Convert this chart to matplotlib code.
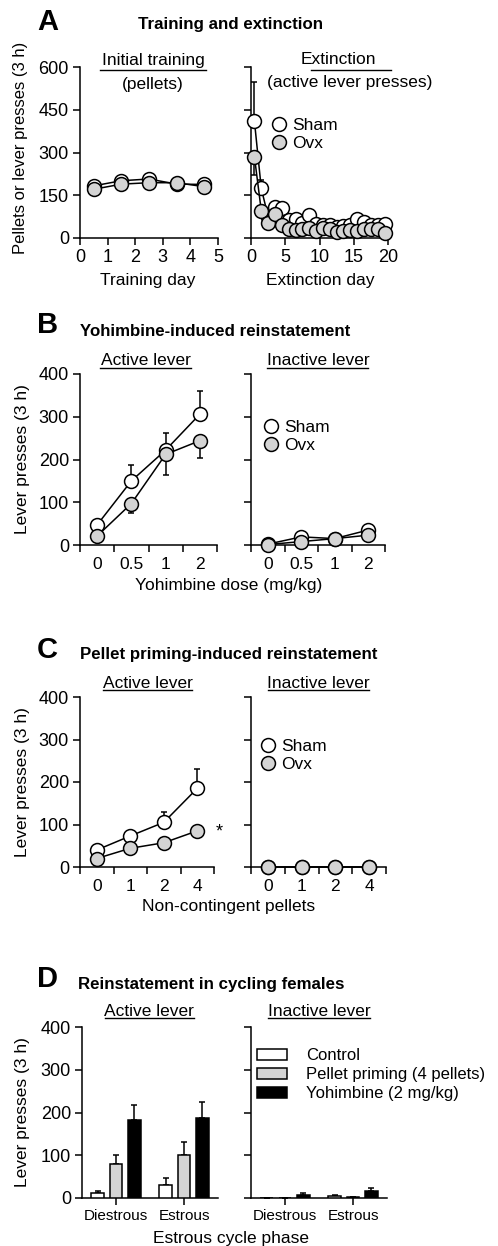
import numpy as np
import matplotlib
matplotlib.use('Agg')
import matplotlib.pyplot as plt
from matplotlib.lines import Line2D

plt.rcParams['font.family'] = ['Liberation Sans', 'DejaVu Sans']
plt.rcParams['font.size'] = 12.5

# ---- data ----
train_days = [0.5, 1.5, 2.5, 3.5, 4.5]
sham_train = [183, 201, 207, 189, 188]
ovx_train = [171, 189, 194, 194, 180]

ext_days = np.arange(20) + 0.5
sham_ext = [410, 174, 75, 108, 105, 62, 67, 52, 80, 50, 45, 45, 40, 42, 45, 65, 55, 45, 45, 48]
sham_ext_err = [138, 30, 10, 15, 17, 6, 5, 5, 6, 5, 4, 4, 4, 4, 4, 6, 5, 4, 4, 4]
ovx_ext = [285, 96, 52, 84, 45, 32, 28, 30, 35, 25, 35, 30, 22, 25, 28, 25, 30, 30, 30, 18]
ovx_ext_err = [64, 20, 10, 10, 6, 5, 4, 4, 4, 4, 4, 4, 4, 4, 4, 4, 4, 4, 4, 4]

yoh_doses = ['0', '0.5', '1', '2']
sham_yoh_act = [47, 150, 222, 306]
sham_yoh_act_err = [5, 38, 40, 55]
ovx_yoh_act = [21, 97, 212, 244]
ovx_yoh_act_err = [4, 21, 48, 41]
sham_yoh_inact = [2, 19, 15, 35]
ovx_yoh_inact = [1, 8, 15, 23]

pellets = ['0', '1', '2', '4']
sham_pel_act = [40, 73, 105, 185]
sham_pel_act_err = [5, 8, 24, 46]
ovx_pel_act = [20, 44, 57, 85]
sham_pel_inact = [1, 1, 1, 1]
ovx_pel_inact = [1, 1, 1, 1]

phases = ['Diestrous', 'Estrous']
conditions = ['Control', 'Pellet priming (4 pellets)', 'Yohimbine (2 mg/kg)']
cond_colors = ['white', '#d4d4d4', 'black']
cyc_act = [[12, 30], [80, 101], [183, 186]]
cyc_act_err = [[5, 16], [20, 31], [35, 39]]
cyc_inact = [[0, 5], [0, 2], [8, 16]]
cyc_inact_err = [[0, 2], [0, 1], [3, 7]]

W, H = 498, 1246
fig = plt.figure(figsize=(W / 100, H / 100), dpi=100)

LW = 1.1
MS = 10
GRAY = '#d4d4d4'


def fx(px):
    return px / W


def fy(py):
    return 1 - py / H


def add_ax(l, t, r, b):
    ax = fig.add_axes([l / W, 1 - b / H, (r - l) / W, (b - t) / H])
    ax.spines['top'].set_visible(False)
    ax.spines['right'].set_visible(False)
    ax.spines['left'].set_linewidth(LW)
    ax.spines['bottom'].set_linewidth(LW)
    ax.tick_params(direction='out', length=5, width=LW, pad=3, labelsize=13)
    ax.patch.set_alpha(0)
    return ax


def series(ax, x, y, err, color, down=False):
    if err is not None:
        z = np.zeros(len(y))
        yerr = [err, z] if down else [z, err]
        ax.errorbar(x, y, yerr=yerr, fmt='none', ecolor='black', elinewidth=LW,
                    capsize=2.2, capthick=LW, zorder=2)
    ax.plot(x, y, '-o', color='black', lw=LW, ms=MS, mfc=color, mec='black',
            mew=LW, zorder=3, clip_on=False)


def underline_text(txt, cx, cy, x0, x1, ly):
    fig.text(fx(cx), fy(cy), txt, ha='center', va='center', fontsize=12.5)
    fig.add_artist(Line2D([fx(x0), fx(x1)], [fy(ly), fy(ly)], color='black', lw=1.0))


def sham_ovx_legend(ax, px, py):
    h = [Line2D([], [], ls='none', marker='o', ms=MS, mfc='white', mec='black', mew=LW),
         Line2D([], [], ls='none', marker='o', ms=MS, mfc=GRAY, mec='black', mew=LW)]
    ax.legend(h, ['Sham', 'Ovx'], loc='upper left', bbox_to_anchor=(fx(px), fy(py)),
              bbox_transform=fig.transFigure, frameon=False, borderpad=0, borderaxespad=0,
              handlelength=1.0, handletextpad=0.3, labelspacing=0.15, fontsize=12.5)


def cat_axis(ax, labels):
    n = len(labels)
    ax.set_xlim(-0.5, n - 0.5)
    ax.set_xticks(np.arange(n + 1) - 0.5)
    ax.set_xticklabels([])
    ax.set_xticks(np.arange(n), minor=True)
    ax.set_xticklabels(labels, minor=True)
    ax.tick_params(axis='x', which='minor', length=0, pad=8.5)


# ---- panel A ----
fig.text(fx(37), fy(22), 'A', fontsize=21, fontweight='bold', ha='left', va='center')
fig.text(fx(138), fy(25), 'Training and extinction', fontsize=12.2, fontweight='bold',
         ha='left', va='center')

axA1 = add_ax(80, 67, 218, 238)
series(axA1, train_days, sham_train, None, 'white')
series(axA1, train_days, ovx_train, None, GRAY)
axA1.set_xlim(0, 5)
axA1.set_ylim(0, 600)
axA1.set_xticks(range(6))
axA1.set_yticks([0, 150, 300, 450, 600])

axA2 = add_ax(251, 67, 388, 238)
series(axA2, ext_days, sham_ext, sham_ext_err, 'white')
series(axA2, ext_days, ovx_ext, ovx_ext_err, GRAY, down=True)
axA2.set_xlim(0, 20)
axA2.set_ylim(0, 600)
axA2.set_xticks([0, 5, 10, 15, 20])
axA2.set_yticks([0, 150, 300, 450, 600])
axA2.set_yticklabels([])
sham_ovx_legend(axA2, 270, 118)

underline_text('Initial training', 153, 60, 100, 206, 70)
fig.text(fx(153), fy(84), '(pellets)', ha='center', va='center', fontsize=12.5)
underline_text('Extinction', 338, 60, 311, 391, 70)
fig.text(fx(350), fy(83), '(active lever presses)', ha='center', va='center', fontsize=12.5)

fig.text(fx(21), fy(148), 'Pellets or lever presses (3 h)', rotation=90, ha='center',
         va='center', fontsize=12)
fig.text(fx(148), fy(281), 'Training day', ha='center', va='center', fontsize=12.5)
fig.text(fx(320), fy(281), 'Extinction day', ha='center', va='center', fontsize=12.5)

# ---- panel B ----
fig.text(fx(37), fy(325), 'B', fontsize=21, fontweight='bold', ha='left', va='center')
fig.text(fx(80), fy(331), 'Yohimbine-induced reinstatement', fontsize=12.2,
         fontweight='bold', ha='left', va='center')

axB1 = add_ax(80, 374, 217, 545)
x4 = np.arange(4)
series(axB1, x4, sham_yoh_act, sham_yoh_act_err, 'white')
series(axB1, x4, ovx_yoh_act, ovx_yoh_act_err, GRAY, down=True)
cat_axis(axB1, yoh_doses)
axB1.set_ylim(0, 400)
axB1.set_yticks([0, 100, 200, 300, 400])

axB2 = add_ax(251, 374, 385, 545)
series(axB2, x4, sham_yoh_inact, None, 'white')
series(axB2, x4, ovx_yoh_inact, None, GRAY)
cat_axis(axB2, yoh_doses)
axB2.set_ylim(0, 400)
axB2.set_yticks([0, 100, 200, 300, 400])
axB2.set_yticklabels([])
sham_ovx_legend(axB2, 262, 420)

underline_text('Active lever', 146, 360, 100, 191, 368)
underline_text('Inactive lever', 318, 360, 267, 368, 368)
fig.text(fx(23), fy(459), 'Lever presses (3 h)', rotation=90, ha='center', va='center',
         fontsize=12.5)
fig.text(fx(229), fy(586), 'Yohimbine dose (mg/kg)', ha='center', va='center', fontsize=12.5)

# ---- panel C ----
fig.text(fx(37), fy(650), 'C', fontsize=21, fontweight='bold', ha='left', va='center')
fig.text(fx(80), fy(655), 'Pellet priming-induced reinstatement', fontsize=12.2,
         fontweight='bold', ha='left', va='center')

axC1 = add_ax(80, 697, 214, 867)
series(axC1, x4, sham_pel_act, sham_pel_act_err, 'white')
series(axC1, x4, ovx_pel_act, None, GRAY)
cat_axis(axC1, pellets)
axC1.set_ylim(0, 400)
axC1.set_yticks([0, 100, 200, 300, 400])
axC1.text(3.65, ovx_pel_act[3] - 2, '*', fontsize=13, ha='center', va='center')

axC2 = add_ax(251, 697, 386, 867)
series(axC2, x4, sham_pel_inact, None, 'white')
series(axC2, x4, ovx_pel_inact, None, GRAY)
cat_axis(axC2, pellets)
axC2.set_ylim(0, 400)
axC2.set_yticks([0, 100, 200, 300, 400])
axC2.set_yticklabels([])
sham_ovx_legend(axC2, 259, 739)

underline_text('Active lever', 148, 683, 103, 192, 690)
underline_text('Inactive lever', 318, 683, 268, 369, 690)
fig.text(fx(23), fy(782), 'Lever presses (3 h)', rotation=90, ha='center', va='center',
         fontsize=12.5)
fig.text(fx(229), fy(907), 'Non-contingent pellets', ha='center', va='center', fontsize=12.5)

# ---- panel D ----
fig.text(fx(37), fy(979), 'D', fontsize=21, fontweight='bold', ha='left', va='center')
fig.text(fx(78), fy(984), 'Reinstatement in cycling females', fontsize=12.2,
         fontweight='bold', ha='left', va='center')

offsets = [-0.27, 0, 0.27]
bw = 0.19
xp = np.arange(2)


def bar_panel(ax, vals, errs):
    for k in range(3):
        ax.bar(xp + offsets[k], vals[k], bw, color=cond_colors[k], edgecolor='black',
               linewidth=LW, label=conditions[k], zorder=3)
        ax.errorbar(xp + offsets[k], vals[k], yerr=[np.zeros(2), errs[k]], fmt='none',
                    ecolor='black', elinewidth=LW, capsize=2.5, capthick=LW, zorder=2)
    ax.set_xlim(-0.5, 1.5)
    ax.set_xticks(xp)
    ax.set_xticklabels(phases, fontsize=11)
    ax.set_ylim(0, 400)
    ax.set_yticks([0, 100, 200, 300, 400])


axD1 = add_ax(82, 1027, 218, 1198)
bar_panel(axD1, cyc_act, cyc_act_err)
axD2 = add_ax(251, 1027, 387, 1198)
bar_panel(axD2, cyc_inact, cyc_inact_err)
axD2.set_yticklabels([])
axD2.legend(loc='upper left', bbox_to_anchor=(fx(257), fy(1048)), bbox_transform=fig.transFigure,
            frameon=False, borderpad=0, borderaxespad=0, handlelength=1.8, handleheight=0.65,
            handletextpad=1.15, labelspacing=0.25, fontsize=12)

underline_text('Active lever', 149, 1011, 105, 194, 1018)
underline_text('Inactive lever', 319, 1011, 268, 370, 1018)
fig.text(fx(23), fy(1112), 'Lever presses (3 h)', rotation=90, ha='center', va='center',
         fontsize=12.5)
fig.text(fx(231), fy(1239), 'Estrous cycle phase', ha='center', va='center', fontsize=12.5)

fig.savefig('out.png', dpi=100)
